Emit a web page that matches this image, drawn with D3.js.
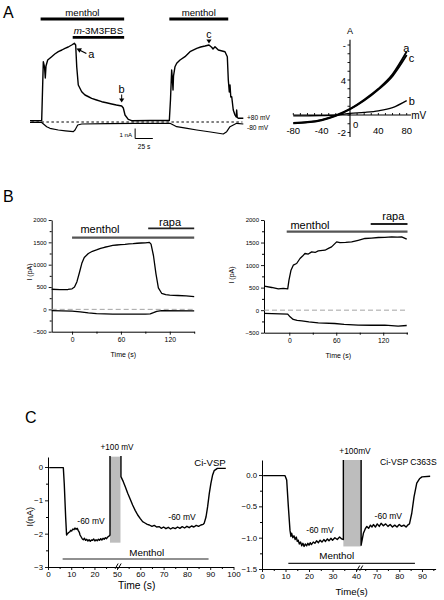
<!DOCTYPE html>
<html><head><meta charset="utf-8">
<script src="https://cdn.jsdelivr.net/npm/d3@7"></script>
<style>
body{margin:0;background:#fff}
text{font-family:"Liberation Sans",Arial,Helvetica,sans-serif;fill:#000}
</style>
</head><body>
<svg id="fig" width="444" height="600" xmlns="http://www.w3.org/2000/svg"></svg>
<script>
// ---------------- DATA ----------------
// Panel A, time course (s, nA)
const aUpper = [[0,0.13],[16.5,0.13],[17.7,3.2],[18.8,6.03],[20.5,5.5],[21.6,4.4],[22.6,5.6],[25,6.2],[30.6,6.53],[35,6.8],[40,7.03],[45,7.2],[49.4,7.37],[54,7.5],[58.9,7.7],[62.6,7.87],[64.5,7.7],[66,5.53],[68.2,3.7],[73,3.03],[77.7,2.7],[82,2.55],[87.1,2.37],[94,2.2],[101.3,2.03],[108,1.92],[115.4,1.8],[122,1.7],[129.5,1.6],[131.8,1.4],[134.2,0.7],[138.8,0.27],[143.6,0.13],[170,0.15],[196.8,0.15],[198.4,2.2],[200.1,5.2],[201,4.4],[202,3.2],[202.7,4.6],[204.8,5.53],[207.2,5.87],[211.9,6.2],[218.9,6.53],[226,7.03],[235.5,7.37],[241,7.5],[247.2,7.6],[252.8,7.7],[256.6,7.47],[258.5,7.3],[261.3,7.53],[266,7.2],[275.4,7.03],[278.7,6.53],[280.1,4.2],[281.5,3.0],[282.5,3.7],[283.6,2.5],[284.9,2.53],[287.1,1.2],[289.5,0.7],[291.2,0.5],[291.9,1.2],[292.7,0.45],[294.2,0.37],[301.3,0.37]];
const aLower = [[0,-0.05],[16.5,-0.05],[23.6,-0.47],[28.2,-0.63],[40,-0.8],[50,-0.88],[61.2,-0.97],[63.6,-0.8],[67.4,-0.3],[73,-0.2],[110,-0.16],[148.3,-0.13],[197.7,-0.13],[207.2,-0.47],[220,-0.62],[235.5,-0.8],[255,-1.0],[273,-1.2],[277.8,-0.97],[282.5,-0.47],[291.9,-0.13],[301.3,-0.2]];
const aBarMenthol1 = [15,133], aBarFBS = [60.3,133], aBarMenthol2 = [196.8,280];
// Panel A, I-V (mV, nA)
const ivMv = [-80,-60,-40,-20,0,20,40,60,80];
const ivA = [-0.9,-0.8,-0.55,-0.05,0.7,1.75,3.0,4.65,7.25];
const ivC = [-0.95,-0.85,-0.6,-0.1,0.65,1.65,2.9,4.45,6.85];
const ivB = [-0.1,-0.09,-0.07,-0.02,0.18,0.3,0.48,0.85,1.65];
const ivYTicks = [-2,4,8], ivYTickText = ["-2","4","-"];
const ivXTicks = [-80,-40,0,40,80];
// Panel B left (s, pA)
const b1Upper = [[-25,450],[-15,440],[-5,445],[0,460],[3,500],[6,620],[9,820],[12,1030],[15,1160],[20,1250],[25,1300],[30,1330],[35,1365],[40,1390],[45,1410],[50,1430],[55,1440],[60,1450],[65,1455],[70,1465],[75,1470],[80,1480],[85,1485],[90,1490],[95,1500],[97,1460],[100,1200],[103,800],[106,480],[110,360],[115,330],[120,320],[130,310],[140,300],[150,285]];
const b1Lower = [[-25,-30],[0,-40],[10,-55],[20,-80],[30,-95],[50,-105],[90,-105],[96,-100],[100,-75],[104,-45],[110,-30],[150,-35]];
const b1Menthol = [0,150], b1Rapa = [93.5,150];
// Panel B right (s, pA)
const b2Upper = [[-32,532],[-22.5,503],[-14,472],[-7.6,481],[-2,472],[-0.4,665],[2.2,887],[5.1,998],[9.4,1035],[13.7,1146],[17,1200],[20,1257],[24.3,1245],[28.6,1293],[33,1280],[37,1315],[45.6,1330],[50,1370],[54,1404],[60.5,1515],[64.7,1500],[72,1505],[79.7,1515],[88,1550],[96.7,1590],[105,1600],[113.7,1612],[122,1615],[130.8,1626],[138,1620],[143.5,1626],[150,1574]];
const b2Lower = [[-32,-73],[-2,-88],[1,-148],[5,-207],[10,-228],[16,-237],[25,-260],[37,-281],[58,-296],[70,-315],[88,-333],[105,-335],[122,-333],[139,-355],[150,-340]];
const b2Menthol = [-3.3,151], b2Rapa = [104,151];
const bYTicks = [-500,0,500,1000,1500,2000];
const bXTicks = [0,60,120];
// Panel C left (s, nA)
const c1Pre = [[0.5,-0.02],[6.6,-0.02],[7,-0.5],[7.6,-1.5],[8,-2.04],[8.4,-2.0],[8.8,-1.97],[9.3,-1.95],[9.8,-1.9],[10.2,-1.92],[10.7,-1.86],[11.2,-1.88],[11.6,-1.83],[12.1,-1.87],[12.6,-1.84],[13,-1.9],[13.5,-1.96],[13.8,-2.04],[14.3,-2.1],[14.8,-2.16],[15.2,-2.18],[15.7,-2.14],[16.2,-2.2],[16.7,-2.17],[17.2,-2.22],[17.7,-2.18],[18.2,-2.23],[18.7,-2.19],[19.2,-2.2],[19.7,-2.16],[20.2,-2.22],[20.7,-2.18],[21.2,-2.21],[21.7,-2.17],[22.2,-2.2],[22.7,-2.15],[23.2,-2.19],[23.7,-2.14],[24.2,-2.17],[24.7,-2.12],[25.2,-2.15],[25.7,-2.1],[26.2,-2.08],[26.7,-2.04],[26.7,0.33]];
const c1Post = [[51.7,0.33],[51.7,-0.29],[52.7,-0.44],[53.6,-0.6],[54.6,-0.79],[55.6,-0.95],[56.7,-1.14],[57.8,-1.3],[58.9,-1.44],[60,-1.55],[61,-1.64],[62,-1.68],[63,-1.72],[63.9,-1.74],[65,-1.78],[66,-1.75],[67,-1.8],[68.2,-1.79],[69,-1.84],[70,-1.8],[71,-1.85],[72,-1.81],[73,-1.86],[74,-1.82],[75,-1.85],[76,-1.8],[77,-1.84],[78,-1.79],[79,-1.83],[80,-1.78],[81,-1.82],[82,-1.77],[83,-1.8],[84,-1.75],[85,-1.78],[86,-1.74],[87,-1.72],[87.4,-1.69],[88.2,-1.5],[88.9,-1.19],[89.6,-0.8],[90.3,-0.49],[91,-0.25],[91.7,-0.11],[93.1,-0.04],[96.7,-0.04]];
const c1Pulse = [27,51.5], c1PulseI = [-2.27,0.31];
const c1Menthol = [6.3,89.3];
const c1XTicks = [0,10,20,50,60,70,80,90,100];
const c1YTicks = [-3,-2,-1,0];
// Panel C right (s, nA)
const c2Pre = [[0.5,-0.01],[5,-0.01],[9.8,-0.01],[10.5,-0.08],[11.2,-0.5],[11.9,-0.88],[12.3,-0.98],[12.6,-0.93],[13.1,-1.0],[13.6,-0.97],[14.1,-1.03],[14.6,-0.99],[15,-1.06],[15.4,-1.04],[15.9,-1.1],[16.4,-1.07],[16.9,-1.13],[17.4,-1.09],[17.9,-1.14],[18.4,-1.1],[19,-1.13],[19.5,-1.09],[20,-1.12],[20.5,-1.08],[21,-1.11],[21.8,-1.07],[22.5,-1.09],[23.2,-1.05],[24,-1.08],[24.7,-1.04],[25.5,-1.07],[26.3,-1.03],[27,-1.06],[27.8,-1.02],[28.5,-1.05],[29.3,-1.01],[30,-1.04],[31,-1.0],[32,-1.03],[33,-0.99],[33.9,-1.02],[34.6,-1.03],[34.6,0.24]];
const c2Post = [[63.2,0.24],[63.2,-1.12],[64.2,-0.93],[65,-0.86],[65.7,-0.82],[66.5,-0.85],[67.3,-0.8],[68,-0.83],[68.6,-0.79],[69.5,-0.83],[70.3,-0.78],[71.2,-0.82],[72,-0.77],[73,-0.81],[74,-0.78],[75,-0.82],[76,-0.79],[77,-0.83],[78,-0.8],[79,-0.83],[80,-0.79],[81,-0.82],[82,-0.8],[83,-0.83],[84,-0.79],[84.5,-0.78],[85.5,-0.61],[86.5,-0.35],[87.7,-0.13],[88.9,-0.06],[90,-0.03],[93.6,-0.02]];
const c2Pulse = [34.6,63.2], c2PulseI = [-1.14,0.24];
const c2Menthol = [11.2,86.9];
const c2XTicks = [0,10,20,30,40,70,80,90];
const c2YTicks = [-1.5,-1.0,-0.5,0.0];

// ---------------- DRAW ----------------
const svg = d3.select("#fig");
const FONT = '"Liberation Sans", Arial, Helvetica, sans-serif';
function txt(x, y, s, size, anchor, extra) {
  const t = svg.append("text").attr("x", x).attr("y", y).attr("font-size", size)
    .attr("text-anchor", anchor || "start").text(s);
  if (extra) extra(t);
  return t;
}
function rtxt(x, y, s, size) {
  return svg.append("text").attr("transform", `translate(${x},${y}) rotate(-90)`)
    .attr("font-size", size).attr("text-anchor", "middle").text(s);
}
function trace(data, x, y, w, color) {
  svg.append("path").datum(data).attr("fill", "none").attr("stroke", color || "#000")
    .attr("stroke-width", w).attr("stroke-linejoin", "round")
    .attr("d", d3.line().x(d => x(d[0])).y(d => y(d[1])));
}
function hbar(x, y0, range, w, color) {
  svg.append("line").attr("x1", x(range[0])).attr("x2", x(range[1]))
    .attr("y1", y0).attr("y2", y0).attr("stroke", color || "#000").attr("stroke-width", w);
}
function styleAxis(g, size) {
  g.attr("font-family", FONT).attr("font-size", size);
  g.selectAll("path.domain").attr("stroke-width", 1);
  g.selectAll(".tick line").attr("stroke-width", 0.9);
}

// ===== Panel A: time course =====
const xA = d3.scaleLinear().domain([0, 300]).range([30, 242.4]);
const yA = d3.scaleLinear().domain([0, 1]).range([122, 112]);
txt(3, 18, "A", 16);
svg.append("line").attr("x1", xA(2)).attr("x2", xA(300)).attr("y1", yA(0)).attr("y2", yA(0))
  .attr("stroke", "#000").attr("stroke-width", 1).attr("stroke-dasharray", "2.5,2.5");
trace(aLower, xA, yA, 1.2);
trace(aUpper, xA, yA, 1.4);
hbar(xA, 19, aBarMenthol1, 3.2);
hbar(xA, 37.3, aBarFBS, 2.8);
hbar(xA, 19, aBarMenthol2, 3.2);
txt((xA(aBarMenthol1[0]) + xA(aBarMenthol1[1])) / 2, 15.8, "menthol", 9.6, "middle");
txt((xA(aBarMenthol2[0]) + xA(aBarMenthol2[1])) / 2, 15.8, "menthol", 9.6, "middle");
txt((xA(aBarFBS[0]) + xA(aBarFBS[1])) / 2, 34.3, "", 9.8, "middle", t => {
  t.append("tspan").attr("font-style", "italic").text("m");
  t.append("tspan").text("-3M3FBS");
});
// arrow a
{
  const tx = xA(65.5), ty = yA(7.35);
  svg.append("line").attr("x1", tx + 3).attr("y1", ty + 1.5).attr("x2", tx + 10).attr("y2", ty + 5)
    .attr("stroke", "#000").attr("stroke-width", 1.3);
  svg.append("path").attr("d", `M${tx},${ty} L${tx + 5.5},${ty - 0.2} L${tx + 3.2},${ty + 4.3} Z`).attr("fill", "#000");
  txt(tx + 15, ty + 9, "a", 11, "middle");
}
// triangles b, c
function downTri(x, y) {
  svg.append("path").attr("d", `M${x - 2.6},${y - 4} L${x + 2.6},${y - 4} L${x},${y} Z`).attr("fill", "#000");
}
{
  const bx = xA(129.5), by = yA(1.6) - 3.5;
  svg.append("line").attr("x1", bx).attr("x2", bx).attr("y1", by - 8).attr("y2", by - 3).attr("stroke", "#000");
  downTri(bx, by);
  txt(bx, by - 9.5, "b", 11, "middle");
  const cx = xA(252.8), cy = yA(7.7) - 1.5;
  downTri(cx, cy);
  txt(cx, cy - 5.5, "c", 10.5, "middle");
}
// scale bar
{
  const sx = xA(148.5), sy = 138.5;
  svg.append("path").attr("d", `M${sx},${sy - (yA(0) - yA(1))} L${sx},${sy} L${sx + (xA(25) - xA(0))},${sy}`)
    .attr("fill", "none").attr("stroke", "#000").attr("stroke-width", 1);
  txt(sx - 3, 137, "1 nA", 6.2, "end");
  txt(sx + (xA(25) - xA(0)) / 2, 149, "25 s", 6.6, "middle");
}
txt(247, 119.5, "+80 mV", 6.6);
txt(247, 130.3, "-80 mV", 6.6);

// ===== Panel A: I-V =====
const xIV = d3.scaleLinear().domain([-80, 80]).range([293.3, 406.7]);
const yIV = d3.scaleLinear().domain([0, 8]).range([115, 45]);
svg.append("line").attr("x1", xIV(-80)).attr("x2", xIV(86)).attr("y1", yIV(0)).attr("y2", yIV(0)).attr("stroke", "#000").attr("stroke-width", 1.1);
svg.append("line").attr("x1", xIV(0)).attr("x2", xIV(0)).attr("y1", yIV(-2.5)).attr("y2", yIV(8.6)).attr("stroke", "#000").attr("stroke-width", 1.1);
d3.range(-2, 9, 1).forEach(v => {
  svg.append("line").attr("x1", xIV(0) - 2.5).attr("x2", xIV(0)).attr("y1", yIV(v)).attr("y2", yIV(v)).attr("stroke", "#000").attr("stroke-width", 0.9);
});
d3.range(-80, 81, 10).forEach(v => {
  svg.append("line").attr("x1", xIV(v)).attr("x2", xIV(v)).attr("y1", yIV(0)).attr("y2", yIV(0) - 2).attr("stroke", "#000").attr("stroke-width", 0.9);
});
ivYTicks.forEach((v, i) => txt(xIV(0) - 4, yIV(v) + 3.5, ivYTickText[i], 9.5, "end"));
ivXTicks.forEach(v => {
  if (v === 0) txt(xIV(0) + 3, yIV(0) + 13, "0", 9.5, "start");
  else txt(xIV(v), yIV(0) + 18.5, String(v), 9.5, "middle");
});
txt(xIV(0), 34, "A", 9, "middle");
txt(xIV(85) + 1, yIV(0) + 4, "mV", 10);
const ivLine = arr => d3.line().curve(d3.curveMonotoneX).x((d, i) => xIV(ivMv[i])).y(d => yIV(d))(arr);
svg.append("path").attr("d", ivLine(ivB)).attr("fill", "none").attr("stroke", "#000").attr("stroke-width", 1.3);
svg.append("path").attr("d", ivLine(ivC)).attr("fill", "none").attr("stroke", "#000").attr("stroke-width", 1.8);
svg.append("path").attr("d", ivLine(ivA)).attr("fill", "none").attr("stroke", "#000").attr("stroke-width", 1.8);
txt(xIV(75) , yIV(7.6) + 3, "a", 11, "start");
txt(xIV(83), yIV(6.5) + 4, "c", 11, "start");
txt(xIV(83), yIV(1.6) + 4, "b", 11, "start");

// ===== Panel B =====
txt(3, 202, "B", 16);
function panelB(x, y, upper, lower, menthol, rapa, mY, rY, mText, rText, xl, yl) {
  const gy = svg.append("g").attr("transform", `translate(${x.range()[0]},0)`)
    .call(d3.axisLeft(y).tickValues(bYTicks).tickSize(3).tickSizeOuter(0).tickPadding(2).tickFormat(d3.format("d")));
  styleAxis(gy, 6);
  svg.append("g").attr("transform", `translate(${x.range()[0]},0)`)
    .call(d3.axisLeft(y).tickValues([-250, 250, 750, 1250, 1750]).tickSize(2).tickFormat("").tickSizeOuter(0))
    .call(g => g.select(".domain").remove());
  const gx = svg.append("g").attr("transform", `translate(0,${y(-500)})`)
    .call(d3.axisBottom(x).tickValues(bXTicks).tickSize(3).tickSizeOuter(0).tickPadding(2));
  styleAxis(gx, 6.8);
  svg.append("g").attr("transform", `translate(0,${y(-500)})`)
    .call(d3.axisBottom(x).tickValues([30, 90, 150].filter(v => v <= x.domain()[1])).tickSize(2).tickFormat("").tickSizeOuter(0))
    .call(g => g.select(".domain").remove());
  svg.append("line").attr("x1", x.range()[0]).attr("x2", x(150)).attr("y1", y(0)).attr("y2", y(0))
    .attr("stroke", "#9a9a9a").attr("stroke-width", 0.9).attr("stroke-dasharray", "5,3");
  trace(upper, x, y, 1.3);
  trace(lower, x, y, 1.3);
  hbar(x, mY, menthol, 2.2, "#555");
  hbar(x, rY, rapa, 1.8, "#222");
  txt(mText[0], mText[1], "menthol", 11, "middle");
  txt(rText[0], rText[1], "rapa", 11, "middle");
  txt(xl[0], xl[1], "Time (s)", 7, "middle");
  rtxt(yl[0], yl[1], "I (pA)", 7);
}
const xB1 = d3.scaleLinear().domain([-25, 150]).range([51.7, 194.2]);
const yB1 = d3.scaleLinear().domain([-500, 2000]).range([331.7, 220]);
panelB(xB1, yB1, b1Upper, b1Lower, b1Menthol, b1Rapa, 237.7, 228.3, [100, 233.3], [170, 225.5], [123.3, 357], [32, 272]);
const xB2 = d3.scaleLinear().domain([-32.3, 151]).range([264, 407.5]);
const yB2 = d3.scaleLinear().domain([-500, 2000]).range([332.7, 220]);
panelB(xB2, yB2, b2Upper, b2Lower, b2Menthol, b2Rapa, 231.7, 224, [310, 229], [393.3, 219.5], [338.3, 357.5], [234, 275]);

// ===== Panel C =====
txt(25, 423, "C", 16);
function panelC(x, y, pre, post, pulse, pulseI, menthol, mY, xTicks, xMinor, yTicks, yMinor, yFmt, brk, labels) {
  svg.append("rect").attr("x", x(pulse[0])).attr("width", x(pulse[1]) - x(pulse[0]))
    .attr("y", y(pulseI[1])).attr("height", y(pulseI[0]) - y(pulseI[1])).attr("fill", "#bdbdbd");
  const x0 = x.range()[0];
  const gy = svg.append("g").attr("transform", `translate(${x0},0)`)
    .call(d3.axisLeft(y).tickValues(yTicks).tickSize(3).tickSizeOuter(0).tickPadding(2).tickFormat(yFmt));
  styleAxis(gy, 7.8);
  svg.append("g").attr("transform", `translate(${x0},0)`)
    .call(d3.axisLeft(y).tickValues(yMinor).tickSize(2).tickFormat("").tickSizeOuter(0))
    .call(g => g.select(".domain").remove());
  const yb = y.range()[0];
  const gx = svg.append("g").attr("transform", `translate(0,${yb})`)
    .call(d3.axisBottom(x).tickValues(xTicks).tickSize(3).tickSizeOuter(0).tickPadding(1.5));
  styleAxis(gx, 8);
  svg.append("g").attr("transform", `translate(0,${yb})`)
    .call(d3.axisBottom(x).tickValues(xMinor).tickSize(2).tickFormat("").tickSizeOuter(0))
    .call(g => g.select(".domain").remove());
  // break marks
  const bx = x(brk);
  [0, 3].forEach(o => svg.append("line").attr("x1", bx + o).attr("y1", yb + 1.8).attr("x2", bx + o + 3).attr("y2", yb - 3.5)
    .attr("stroke", "#000").attr("stroke-width", 1));
  trace(pre, x, y, 1.4);
  trace(post, x, y, 1.4);
  hbar(x, mY, menthol, 1.2, "#222");
  labels.forEach(l => txt(l[0], l[1], l[2], l[3], "middle"));
}
const xC1 = d3.scaleLinear().domain([0, 26.7, 47, 100]).range([48, 110, 110, 233.5]);
const yC1 = d3.scaleLinear().domain([-3, 0.3]).range([567, 457]);
panelC(xC1, yC1, c1Pre, c1Post, c1Pulse, c1PulseI, c1Menthol, 559,
  c1XTicks, [5, 15, 25, 55, 65, 75, 85, 95], c1YTicks, [-2.5, -1.5, -0.5], d3.format("d"), 49.2,
  [[117, 449.5, "+100 mV", 8.2], [210, 466, "Ci-VSP", 9.6], [91, 523.5, "-60 mV", 8.5], [182, 519.5, "-60 mV", 8.5],
   [146.7, 556, "Menthol", 9.8], [136.7, 589, "Time (s)", 10.3]]);
rtxt(33, 516.7, "I(nA)", 9);
const xC2 = d3.scaleLinear().domain([0, 41, 62, 96]).range([262, 358.4, 358.4, 435.6]);
const yC2 = d3.scaleLinear().domain([-1.5, 0.24]).range([569, 460]);
panelC(xC2, yC2, c2Pre, c2Post, c2Pulse, c2PulseI, c2Menthol, 563.3,
  c2XTicks, [5, 15, 25, 35, 65, 75, 85, 95], c2YTicks, [-1.25, -0.75, -0.25], d3.format(".1f"), 40.3,
  [[355, 454, "+100mV", 8.4], [408.3, 465, "Ci-VSP C363S", 8.6], [320, 533, "-60 mV", 8.5], [388.3, 518.5, "-60 mV", 8.5],
   [336.7, 558.5, "Menthol", 9.8], [351.7, 595, "Time(s)", 9.6]]);
</script>
</body></html>
